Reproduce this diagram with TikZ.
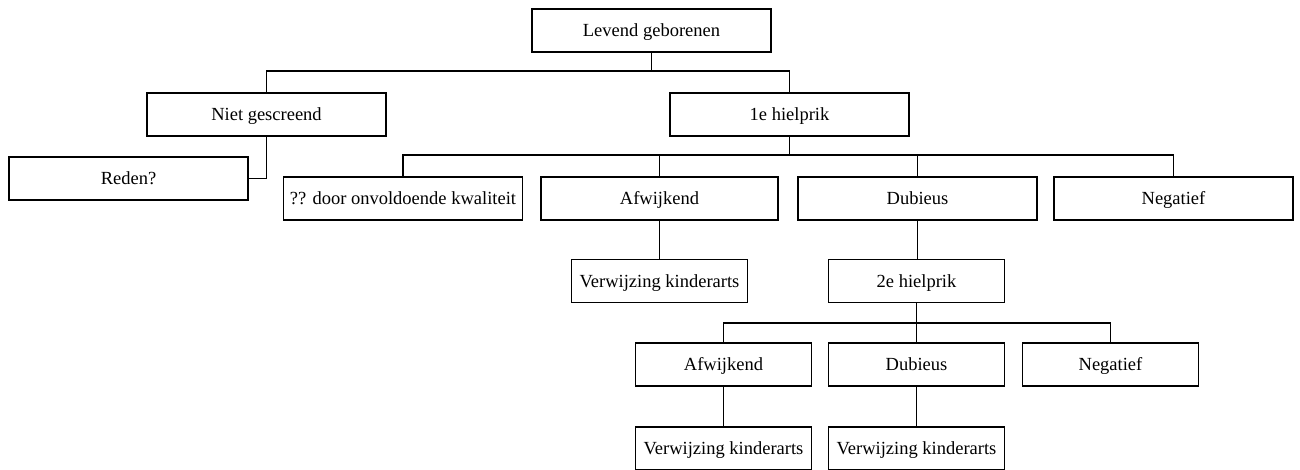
\documentclass[tikz,border=0pt]{standalone}
\usepackage{fontspec}
\setmainfont{Liberation Serif}
\begin{document}
\begin{tikzpicture}[x=1pt, y=-1pt,
  box/.style={draw, line width=1.7pt, inner sep=0pt, outer sep=0pt,
    minimum height=43pt, text height=12.5pt, text depth=0pt,
    font=\fontsize{18.5}{20}\selectfont},
  wide/.style={box, minimum width=239pt},
  narrow/.style={box, minimum width=176pt},
  link/.style={line width=1.4pt}]
\useasboundingbox (0,0) rectangle (1300,469);

% top level
\node[wide] (lev) at (651.5,30.5) {Levend geborenen};
\node[wide] (niet) at (266.5,114.5) {Niet gescreend};
\node[wide] (hp1) at (789.5,114.5) {1e hielprik};
\node[wide] (reden) at (128.5,178.5) {Reden?};

% first heel prick outcomes
\node[wide] (onv) at (403,198.5) {?? door onvoldoende kwaliteit};
\node[wide, minimum width=237pt] (afw) at (659.5,198.5) {Afwijkend};
\node[wide] (dub) at (917.5,198.5) {Dubieus};
\node[wide] (neg) at (1173.5,198.5) {Negatief};

\node[narrow] (ver1) at (659.5,281) {Verwijzing kinderarts};
\node[narrow] (hp2) at (916.5,281) {2e hielprik};

% second heel prick outcomes
\node[narrow] (afw2) at (723.5,364.5) {Afwijkend};
\node[narrow] (dub2) at (916.5,364.5) {Dubieus};
\node[narrow] (neg2) at (1110.5,364.5) {Negatief};

\node[narrow] (ver2) at (723.5,448.5) {Verwijzing kinderarts};
\node[narrow] (ver3) at (916.5,448.5) {Verwijzing kinderarts};

% bus levels
\coordinate (bus1) at (0,71);
\coordinate (bus2) at (0,155);
\coordinate (bus3) at (0,323);

\draw[link] (niet.north) -- (niet.north |- bus1) -- (hp1.north |- bus1) -- (hp1.north);
\draw[link] (lev.south) -- (lev.south |- bus1);

\draw[link] (niet.south) |- (reden.east);

\draw[link] (onv.north) -- (onv.north |- bus2) -- (neg.north |- bus2) -- (neg.north);
\draw[link] (afw.north) -- (afw.north |- bus2);
\draw[link] (dub.north) -- (dub.north |- bus2);
\draw[link] (hp1.south) -- (hp1.south |- bus2);

\draw[link] (afw.south) -- (ver1.north);
\draw[link] (dub.south) -- (dub.south |- hp2.north);

\draw[link] (afw2.north) -- (afw2.north |- bus3) -- (neg2.north |- bus3) -- (neg2.north);
\draw[link] (dub2.north) -- (dub2.north |- bus3);
\draw[link] (hp2.south) -- (hp2.south |- bus3);

\draw[link] (afw2.south) -- (ver2.north);
\draw[link] (dub2.south) -- (ver3.north);
\end{tikzpicture}
\end{document}
